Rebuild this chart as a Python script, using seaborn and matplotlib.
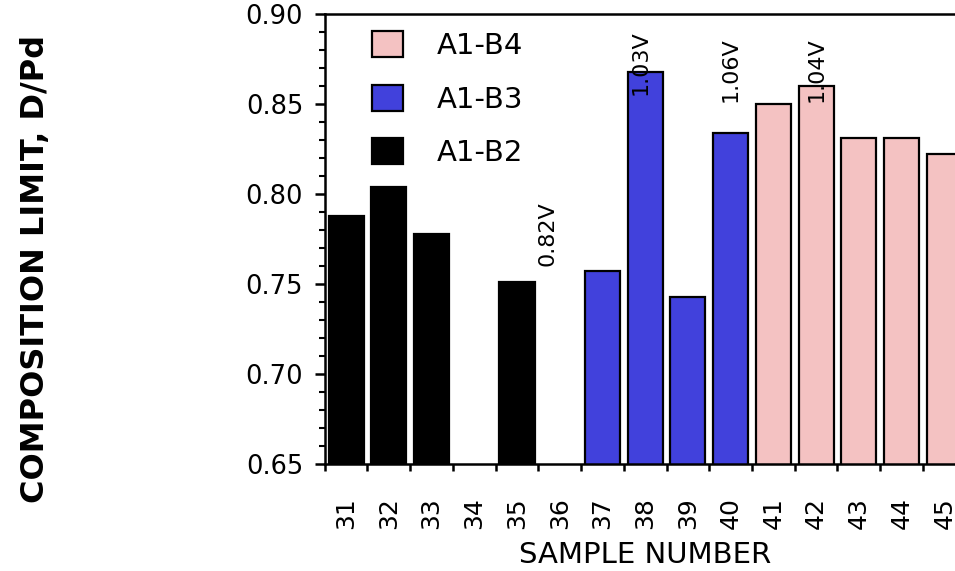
import matplotlib
matplotlib.use("Agg")
import matplotlib.pyplot as plt
import seaborn as sns
import pandas as pd
import numpy as np
from matplotlib.patches import Patch
from matplotlib.ticker import MultipleLocator, FixedLocator

# ---- data ----
sample_order = ["31", "32", "33", "34", "35", "36", "37", "38", "39", "40", "41", "42", "43", "44", "45"]
samples = ["31", "32", "33", "35", "37", "38", "39", "40", "41", "42", "43", "44", "45"]
values = [0.788, 0.804, 0.778, 0.751, 0.757, 0.868, 0.743, 0.834, 0.850, 0.860, 0.831, 0.831, 0.822]
groups = ["A1-B2", "A1-B2", "A1-B2", "A1-B2", "A1-B3", "A1-B3", "A1-B3", "A1-B3",
          "A1-B4", "A1-B4", "A1-B4", "A1-B4", "A1-B4"]
legend_order = ["A1-B4", "A1-B3", "A1-B2"]
group_colors = {"A1-B2": "#000000", "A1-B3": "#4141DC", "A1-B4": "#F4C2C2"}
annot_samples = ["36", "38", "40", "42"]
annot_texts = ["0.82V", "1.03V", "1.06V", "1.04V"]
annot_y = [0.796, 0.891, 0.887, 0.887]
annot_dx = [-0.28, -0.1, 0.0, 0.0]
y_ticks = [0.65, 0.70, 0.75, 0.80, 0.85, 0.90]

df = pd.DataFrame({"sample": samples, "value": values, "group": groups})

sns.set_theme(style="white")
plt.rcParams["font.family"] = ["DejaVu Sans"]
for k in ["text.color", "axes.labelcolor", "xtick.color", "ytick.color"]:
    plt.rcParams[k] = "black"

fig = plt.figure(figsize=(9.55, 5.71), dpi=100)
ax = fig.add_axes([0.340, 0.1874, 0.66, 0.788])

sns.barplot(data=df, x="sample", y="value", hue="group", order=sample_order,
            palette=group_colors, dodge=False, width=0.82, ax=ax, saturation=1,
            edgecolor="black", linewidth=1.6, legend=False)

ax.set_ylim(0.65, 0.90)
ax.set_xlim(-0.5, 14.25)
ax.set_yticks(y_ticks)
ax.set_yticklabels([f"{v:.2f}" for v in y_ticks], fontsize=18.5)
ax.yaxis.set_minor_locator(MultipleLocator(0.01))
ax.set_xticks(range(len(sample_order)))
ax.set_xticklabels(sample_order, rotation=90, fontsize=18)
ax.xaxis.set_minor_locator(FixedLocator(np.arange(-0.5, 15, 1.0)))

ax.tick_params(axis="y", which="major", direction="out", length=7.5, width=1.8, pad=8, left=True)
ax.tick_params(axis="y", which="minor", direction="out", length=4, width=1.5, left=True)
ax.tick_params(axis="x", which="major", length=0, pad=24, bottom=True)
ax.tick_params(axis="x", which="minor", direction="out", length=5, width=1.8, bottom=True)

for s in ["left", "bottom", "top"]:
    ax.spines[s].set_linewidth(1.8)
    ax.spines[s].set_color("black")
ax.spines["right"].set_visible(False)

ax.set_xlabel("")
ax.set_ylabel("")
fig.text(645 / 955, 1 - 555 / 571, "SAMPLE NUMBER", fontsize=21, ha="center", va="center")
fig.text(0.037, 1 - 269 / 571, "COMPOSITION LIMIT, D/Pd", rotation=90, fontsize=23,
         fontweight="bold", ha="center", va="center")

for s, t, yv, dx in zip(annot_samples, annot_texts, annot_y, annot_dx):
    ax.text(sample_order.index(s) + dx, yv, t, rotation=90, fontsize=16,
            ha="center", va="top")

handles = [Patch(facecolor=group_colors[g], edgecolor="black", linewidth=1.6, label=g)
           for g in legend_order]
ax.legend(handles=handles, loc="upper left", bbox_to_anchor=(0.0746, 0.963),
          frameon=False, fontsize=21, handlelength=1.07, handleheight=1.0,
          labelspacing=0.85, handletextpad=1.17, borderpad=0, borderaxespad=0)

fig.savefig("out.png", dpi=100)
